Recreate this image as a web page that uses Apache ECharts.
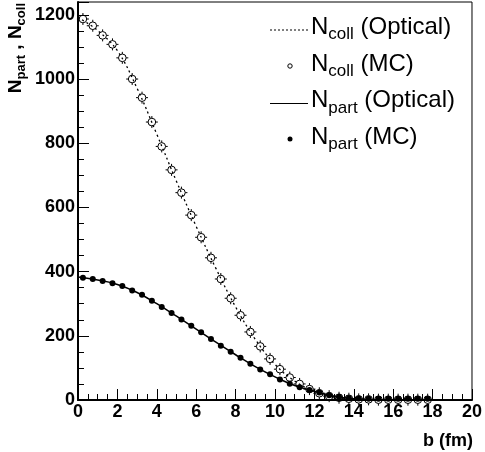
<!DOCTYPE html>
<html>
<head>
<meta charset="utf-8">
<script src="https://cdn.jsdelivr.net/npm/echarts@6/dist/echarts.min.js"></script>
<style>
  html, body { margin: 0; padding: 0; background: #fff; }
  #chart { width: 485px; height: 452px; }
</style>
</head>
<body>
<div id="chart"></div>
<script>
// Impact-parameter bin centres of the Monte Carlo Glauber points (fm)
const bMC = [0.25, 0.75, 1.25, 1.75, 2.25, 2.75, 3.25, 3.75, 4.25, 4.75,
             5.25, 5.75, 6.25, 6.75, 7.25, 7.75, 8.25, 8.75, 9.25, 9.75,
             10.25, 10.75, 11.25, 11.75, 12.25, 12.75, 13.25, 13.75, 14.25, 14.75,
             15.25, 15.75, 16.25, 16.75, 17.25, 17.75];
const nCollMC = [1187, 1166, 1136, 1108, 1066, 1000, 942, 866, 790, 717,
                 646, 576, 507, 443, 377, 317, 264, 212, 167, 128,
                 96, 70, 50, 34, 21, 12, 7, 4, 2, 2,
                 1, 1, 1, 1, 1, 1];
const nPartMC = [381, 377, 371, 364, 355, 341, 328, 309, 290, 271,
                 251, 231, 211, 190, 169, 150, 132, 113, 95, 80,
                 64, 51, 40, 31, 23, 15, 10, 6, 5, 4,
                 4, 4, 4, 4, 4, 4];

// Optical Glauber curves sampled every 1 fm
const bOpt = [0, 1, 2, 3, 4, 5, 6, 7, 8, 9, 10, 11, 12, 13, 14, 15, 16, 17, 18, 19, 20];
const nCollOpt = [1192, 1151, 1088, 971, 828, 681, 541, 410, 290, 189, 111, 59, 27, 9, 3, 1, 0, 0, 0, 0, 0];
const nPartOpt = [383, 374, 360, 335, 300, 261, 221, 180, 141, 104, 72, 45, 27, 12, 4, 1, 0, 0, 0, 0, 0];

// Axis ranges and tick spacing
const xRange = [0, 20];
const xMajor = 2;
const yRange = [0, 1240];
const yMajor = 200;
const yMinor = 50;

const FONT = '"Liberation Sans", Arial, Helvetica, sans-serif';
const BLACK = '#000';

const pairs = (xs, ys) => xs.map((x, i) => [x, ys[i]]);

// open marker with short error-bar stubs
const openMarker = 'path://M4 11 A7 7 0 1 0 18 11 A7 7 0 1 0 4 11 Z M0 11 L4 11 M18 11 L22 11 M11 0 L11 4 M11 18 L11 22';

const chart = echarts.init(document.getElementById('chart'), null, { renderer: 'canvas' });

const tickLabel = {
  color: BLACK, fontFamily: FONT, fontWeight: 'bold', fontSize: 18
};

// main text size, subscript size, downward shift of the subscript
const subRich = (size, subSize, bold, drop) => ({
  n: { fontSize: size, fontWeight: bold ? 'bold' : 'normal', fontFamily: FONT, fill: BLACK, color: BLACK },
  s: { fontSize: subSize, fontWeight: bold ? 'bold' : 'normal', fontFamily: FONT, fill: BLACK, color: BLACK, padding: [drop, 0, 0, 0] }
});

const legendRows = [
  { y: 27, text: '{n|N}{s|coll}{n| (Optical)}', kind: 'dash' },
  { y: 64, text: '{n|N}{s|coll}{n| (MC)}', kind: 'open' },
  { y: 100.5, text: '{n|N}{s|part}{n| (Optical)}', kind: 'solid' },
  { y: 137, text: '{n|N}{s|part}{n| (MC)}', kind: 'dot' }
];

const legendGraphics = [];
legendRows.forEach(r => {
  if (r.kind === 'dash' || r.kind === 'solid') {
    legendGraphics.push({
      type: 'line',
      shape: { x1: 270, y1: r.y + 3, x2: 308, y2: r.y + 3 },
      style: { stroke: BLACK, lineWidth: 1, lineDash: r.kind === 'dash' ? [2, 2] : null }
    });
  } else if (r.kind === 'open') {
    legendGraphics.push({
      type: 'circle', shape: { cx: 290, cy: r.y + 2, r: 2.2 },
      style: { fill: '#fff', stroke: BLACK, lineWidth: 1 }
    });
  } else {
    legendGraphics.push({
      type: 'circle', shape: { cx: 290, cy: r.y + 2, r: 2.5 },
      style: { fill: BLACK }
    });
  }
  legendGraphics.push({
    type: 'text', x: 311, y: r.y,
    style: {
      text: r.text, rich: subRich(24, 17, false, 15),
      verticalAlign: 'middle', align: 'left', fill: BLACK
    }
  });
});

const option = {
  animation: false,
  backgroundColor: '#fff',
  grid: {
    left: 78, right: 10, top: 2, bottom: 52,
    show: true, borderColor: BLACK, borderWidth: 1, backgroundColor: 'transparent'
  },
  xAxis: {
    type: 'value', min: xRange[0], max: xRange[1], interval: xMajor,
    axisLine: { show: true, onZero: false, lineStyle: { color: BLACK, width: 2 } },
    axisTick: { show: true, inside: true, length: 11, lineStyle: { color: BLACK, width: 1 } },
    minorTick: { show: true, splitNumber: 4, length: 6, lineStyle: { color: BLACK, width: 1 } },
    splitLine: { show: false },
    axisLabel: Object.assign({ margin: 3 }, tickLabel)
  },
  yAxis: [
    {
      type: 'value', min: yRange[0], max: yRange[1], interval: yMajor,
      axisLine: { show: true, onZero: false, lineStyle: { color: BLACK, width: 2 } },
      axisTick: { show: true, inside: true, length: 11, lineStyle: { color: BLACK, width: 1 } },
      splitLine: { show: false },
      axisLabel: Object.assign({
        margin: 3,
        formatter: v => (v % yMajor === 0 ? String(v) : '')
      }, tickLabel)
    },
    {
      type: 'value', min: yRange[0], max: yRange[1], interval: yMinor, position: 'left',
      axisLine: { show: false },
      axisTick: { show: true, inside: true, length: 6, lineStyle: { color: BLACK, width: 1 } },
      splitLine: { show: false },
      axisLabel: { show: false }
    }
  ],
  series: [
    {
      name: 'Ncoll optical', type: 'line', data: pairs(bOpt, nCollOpt),
      smooth: 0.4, symbol: 'none', z: 2,
      lineStyle: { color: BLACK, width: 1.3, type: [2, 3] }
    },
    {
      name: 'Npart optical', type: 'line', data: pairs(bOpt, nPartOpt),
      smooth: 0.4, symbol: 'none', z: 2,
      lineStyle: { color: BLACK, width: 1.5 }
    },
    {
      name: 'Ncoll MC', type: 'scatter', data: pairs(bMC, nCollMC),
      symbol: openMarker, symbolSize: 12, z: 3,
      itemStyle: { color: 'rgba(255,255,255,0)', borderColor: BLACK, borderWidth: 1, opacity: 1 }
    },
    {
      name: 'Npart MC', type: 'scatter', data: pairs(bMC, nPartMC),
      symbol: 'circle', symbolSize: 6, z: 4,
      itemStyle: { color: BLACK, opacity: 1 }
    }
  ],
  graphic: [
    {
      type: 'text', x: 16, y: 3, rotation: Math.PI / 2,
      style: {
        text: '{n|N}{s|part}{n| , N}{s|coll}',
        rich: subRich(19, 13, true, 10),
        align: 'right', verticalAlign: 'middle', fill: BLACK
      }
    },
    {
      type: 'text', x: 473, y: 441,
      style: {
        text: 'b (fm)', fontFamily: FONT, fontWeight: 'bold', fontSize: 18,
        align: 'right', verticalAlign: 'middle', fill: BLACK
      }
    }
  ].concat(legendGraphics)
};

chart.setOption(option);
</script>
</body>
</html>
